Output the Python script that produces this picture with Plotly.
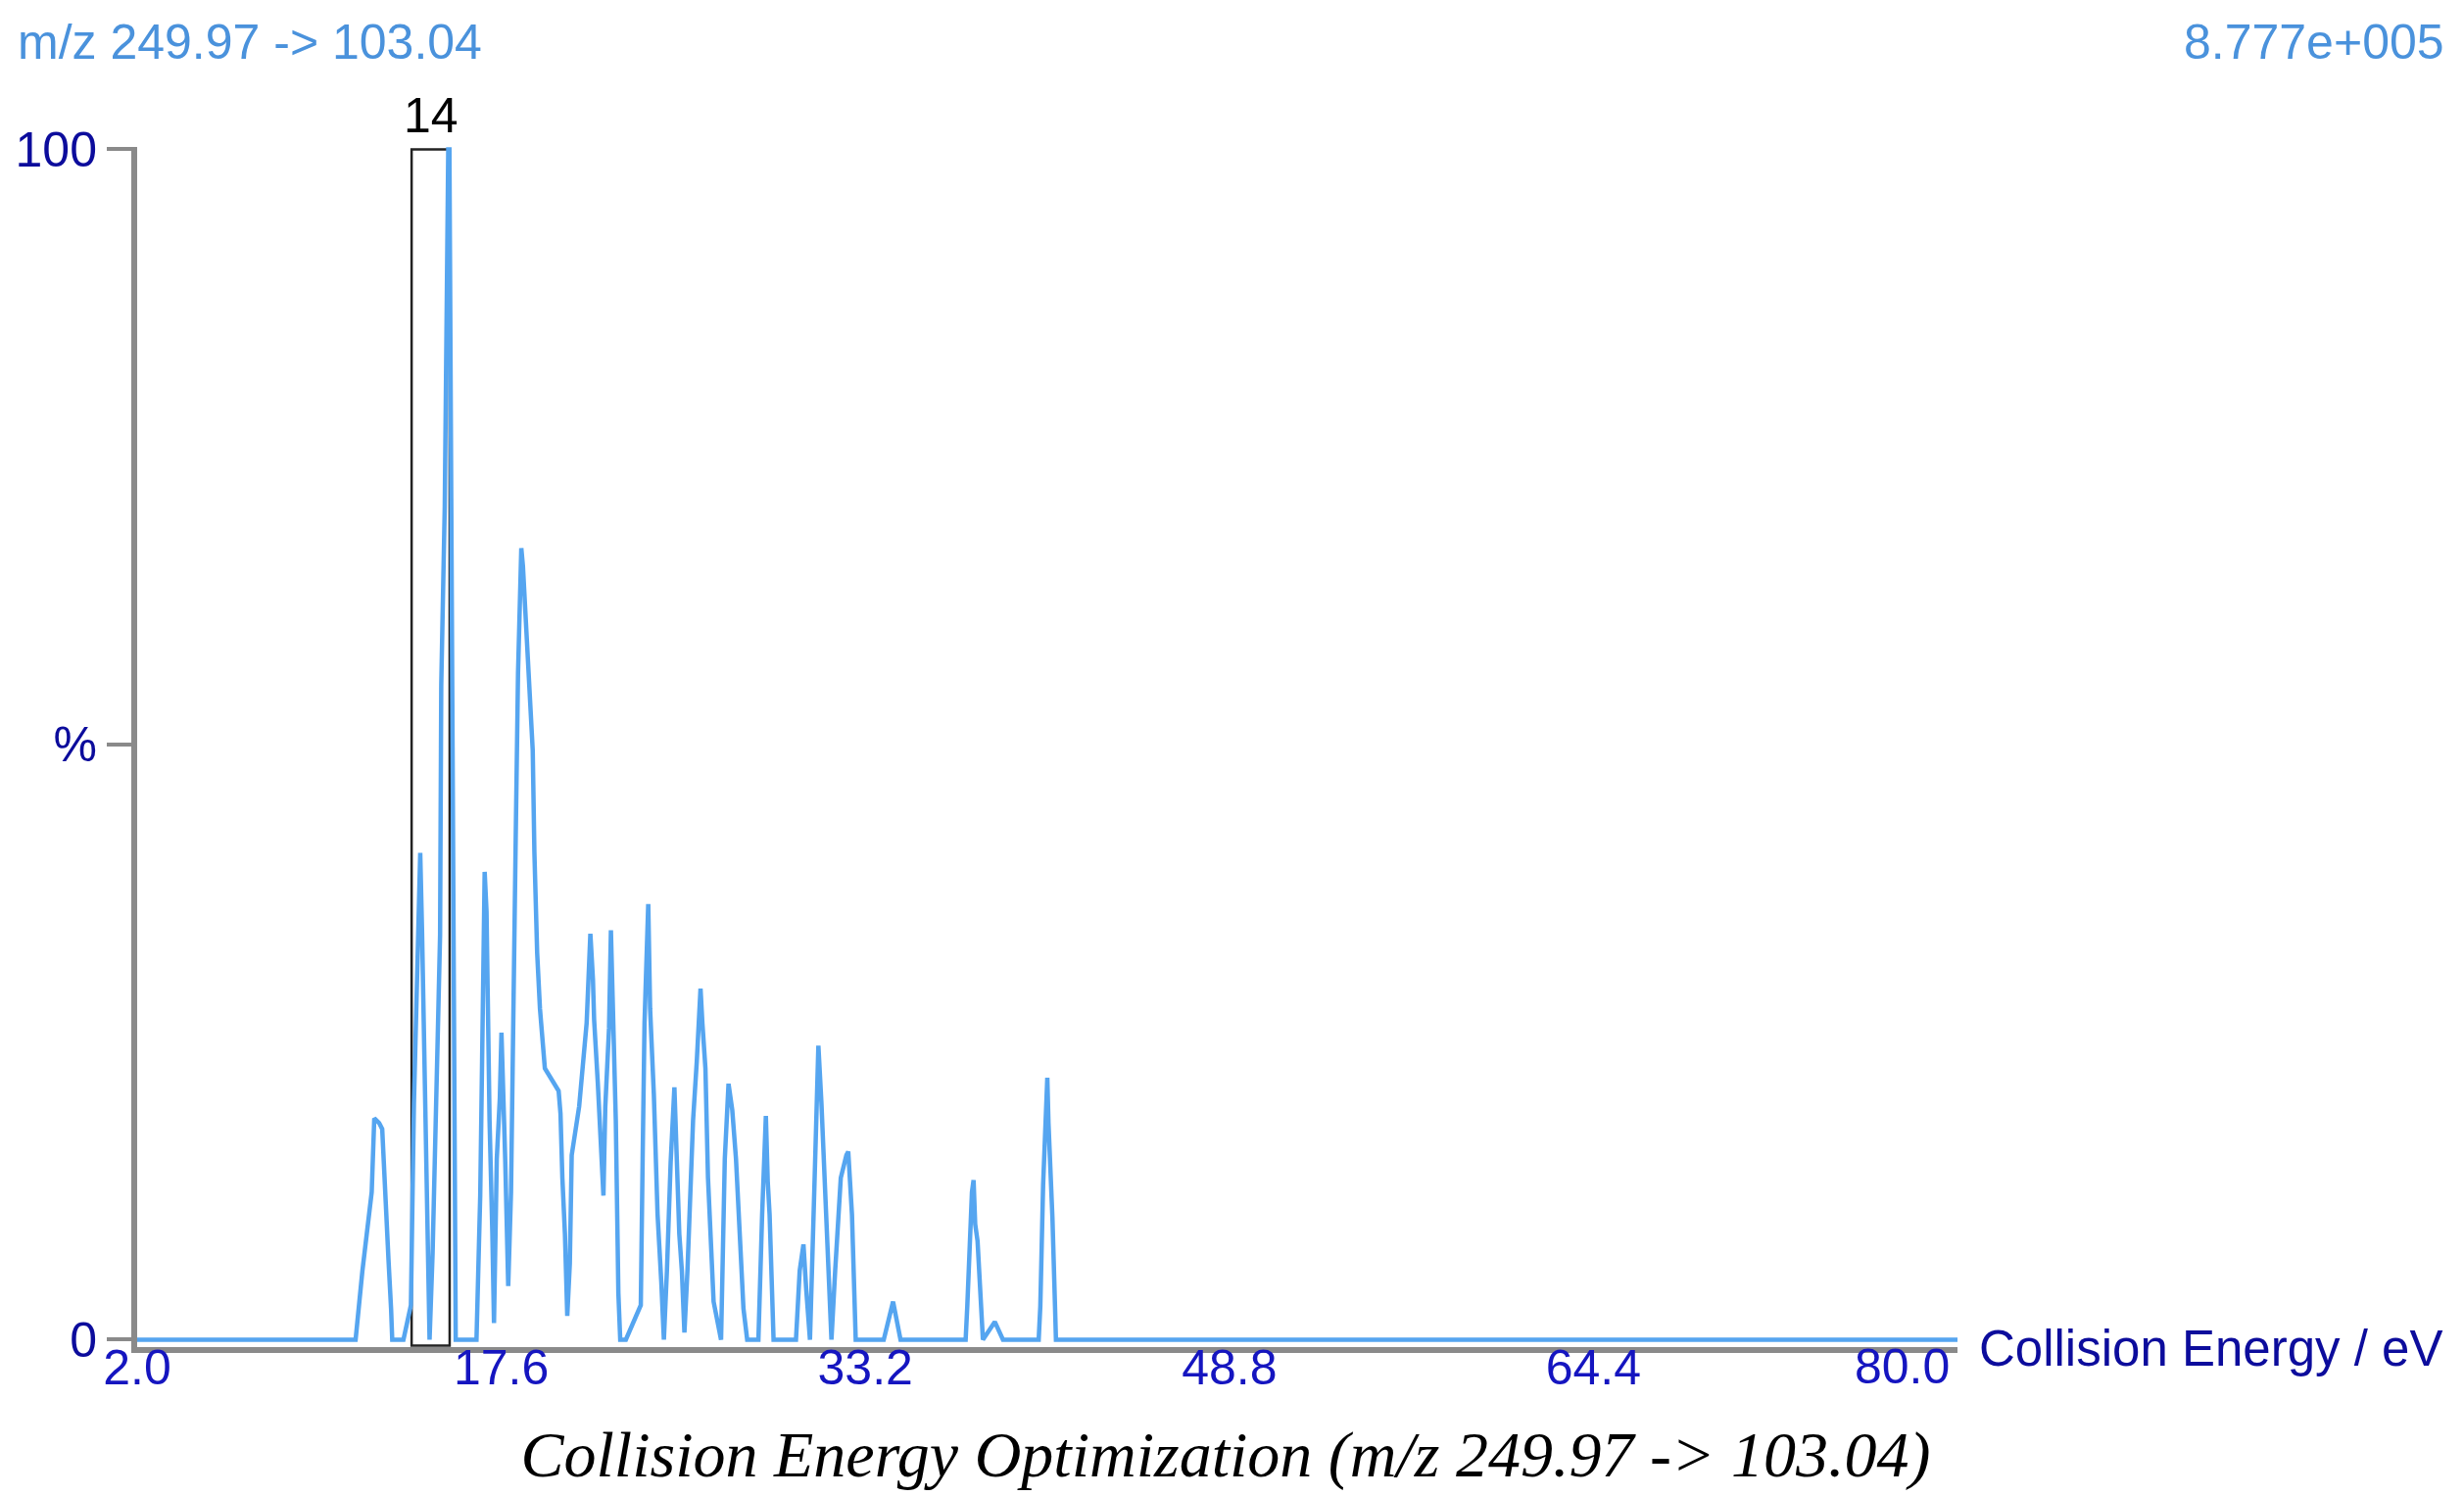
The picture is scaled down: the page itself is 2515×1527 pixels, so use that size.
import plotly.graph_objects as go

# ---------------- data ----------------
ce_ev = [
    2.0, 11.36, 11.65, 11.89, 12.05, 12.16, 12.37, 12.50, 12.61, 12.77, 12.88, 12.93,
    13.41, 13.73, 13.86, 13.97, 14.05, 14.13, 14.21, 14.29, 14.37, 14.45, 14.53,
    14.66, 14.77, 14.90, 14.98, 15.03, 15.18, 15.24, 15.33, 15.38, 15.45, 15.51, 15.58, 15.65,
    16.54, 16.70, 16.78, 16.86, 16.89, 16.97, 17.01, 17.10, 17.22, 17.29,
    17.41, 17.54, 17.61, 17.70, 17.77, 17.90,
    18.02, 18.09, 18.17, 18.22, 18.32, 18.39, 18.46, 18.53, 18.60, 18.69, 18.78, 18.87, 18.95,
    19.02, 19.14, 19.26, 19.47, 20.06, 20.14, 20.22, 20.33, 20.43,
    20.54, 20.62, 20.94, 21.26, 21.42, 21.53, 21.58, 21.74, 21.90, 21.98, 22.06, 22.22, 22.30,
    22.38, 22.51, 22.62, 22.70,
    22.94, 23.58, 23.66, 23.74, 23.90, 23.98, 24.14, 24.30, 24.46, 24.57,
    24.70, 24.86, 25.02, 25.13, 25.23, 25.34, 25.45,
    25.58, 25.82, 25.98, 26.14, 26.22, 26.35, 26.46, 26.62, 26.70, 27.02,
    27.18, 27.34, 27.50, 27.66, 27.82, 27.98, 28.14,
    28.62, 28.78, 28.94, 29.02, 29.10, 29.27,
    30.23, 30.39, 30.55, 30.67, 30.83,
    31.03, 31.19, 31.32, 31.43, 31.59, 31.75,
    31.91, 32.15, 32.39, 32.47, 32.63, 32.79,
    33.99, 34.39, 34.71,
    37.50, 37.57, 37.68, 37.77, 37.84, 37.91, 38.01, 38.12, 38.24, 38.75, 39.10,
    40.63, 40.70, 40.82, 40.91, 41.00, 41.05, 41.12, 41.22, 41.33, 41.37, 80.0,
]
intensity_pct = [
    0, 0, 5.76, 9.54, 12.4, 18.6, 18.2, 17.7, 12.4, 6.7, 2.6, 0,
    0, 2.9, 19.9, 28.8, 38.2, 40.9, 34.1, 24.7, 14.3, 7.0, 0,
    7.3, 18.4, 27.2, 34.0, 55.0, 70.0, 84.5, 100, 100, 77, 56, 25, 0,
    0, 12.1, 23.4, 32.8, 39.3, 36.0, 27.8, 18.4, 8.9, 1.4,
    15.2, 20.3, 25.8, 20.3, 15.2, 4.5,
    12.4, 22.8, 32.2, 42.0, 56.0, 63.0, 66.5, 65.0, 62.5, 59.5, 56.5, 53.0, 49.5,
    41.0, 32.5, 27.8, 22.8, 20.9, 19.0, 13.6, 8.9, 2.0,
    6.4, 15.5, 19.6, 26.6, 34.1, 30.3, 26.9, 21.5, 15.8, 12.1, 19.6, 26.2, 34.4,
    27.8, 18.4, 3.9, 0,
    0, 2.9, 15.2, 26.6, 36.6, 27.8, 20.6, 10.5, 4.8, 0,
    5.8, 14.9, 21.2, 15.2, 8.9, 5.8, 0.6,
    5.8, 18.4, 23.4, 29.5, 26.6, 22.8, 13.6, 5.8, 3.2, 0,
    15.2, 21.5, 19.3, 15.2, 8.9, 2.6, 0,
    0, 10.5, 18.8, 13.3, 10.5, 0,
    0, 5.8, 8.0, 4.2, 0,
    13.6, 24.7, 19.9, 15.2, 8.0, 0,
    5.8, 13.6, 15.5, 15.8, 10.5, 0,
    0, 3.2, 0,
    0, 2.8, 9.7, 12.4, 13.4, 9.7, 8.3, 3.4, 0, 1.5, 0,
    0, 2.8, 13.0, 18.2, 22.0, 18.2, 15.2, 10.2, 2.8, 0, 0,
]

x_tick_values = [2.0, 17.6, 33.2, 48.8, 64.4, 80.0]
x_tick_labels = ["2.0", "17.6", "33.2", "48.8", "64.4", "80.0"]
y_tick_values = [0, 50, 100]
y_tick_labels = ["0", "%", "100"]

optimum_label = "14"
optimum_box_ce = [13.76, 15.39]   # eV span of the highlighted box
optimum_box_top = 100

header_left = "m/z 249.97 -> 103.04"
header_right = "8.777e+005"
x_axis_label = "Collision Energy / eV"
bottom_title = "Collision Energy Optimization (m/z 249.97 -> 103.04)"

# ---------------- styling ----------------
W, H = 2515, 1527
M_L, M_R, M_T, M_B = 140, 517, 150, 152
SANS = "Liberation Sans, Arial, sans-serif"
SERIF = "Liberation Serif, Times New Roman, serif"
TRACE = "#55a5f0"
AXIS_GREY = "#8a8a8a"
TICK_BLUE = "#1515c0"
YLAB_BLUE = "#0c0c9c"
HEAD_BLUE = "#4a92dc"
TICK_LABEL_Y_PX = 1395

pw = W - M_L - M_R
ph = H - M_T - M_B


def px_to_paper_x(px):
    return (px - M_L) / pw


def px_to_paper_y(py):
    return (H - M_B - py) / ph


# the last tick label sits inside the axis end (right-aligned), as in the reference;
# it is drawn at its axis value with a right anchor so it does not collide with the axis label
tick_text = list(x_tick_labels)
tick_text[-1] = ""

fig = go.Figure()
fig.add_trace(go.Scatter(
    x=ce_ev, y=intensity_pct, mode="lines",
    line=dict(color=TRACE, width=4.5),
    hoverinfo="skip", showlegend=False,
))

# highlighted optimum box
fig.add_shape(type="rect", xref="x", yref="y",
              x0=optimum_box_ce[0], x1=optimum_box_ce[1], y0=-0.5, y1=optimum_box_top,
              line=dict(color="#222222", width=2.5), fillcolor="rgba(0,0,0,0)", layer="below")

fig.add_annotation(x=sum(optimum_box_ce) / 2, y=optimum_box_top, xref="x", yref="y",
                   text=optimum_label, showarrow=False, yanchor="bottom", yshift=4,
                   font=dict(family=SANS, size=50, color="#000000"))

fig.add_annotation(x=x_tick_values[-1], y=px_to_paper_y(TICK_LABEL_Y_PX), xref="x", yref="paper",
                   text=x_tick_labels[-1], showarrow=False, xanchor="right", yanchor="middle",
                   xshift=-6, font=dict(family=SANS, size=50, color=TICK_BLUE))

fig.add_annotation(x=px_to_paper_x(16), y=px_to_paper_y(43), xref="paper", yref="paper",
                   text=header_left, showarrow=False, xanchor="left", yanchor="middle",
                   font=dict(family=SANS, size=50, color=HEAD_BLUE))
fig.add_annotation(x=px_to_paper_x(2497), y=px_to_paper_y(43), xref="paper", yref="paper",
                   text=header_right, showarrow=False, xanchor="right", yanchor="middle",
                   font=dict(family=SANS, size=50, color=HEAD_BLUE))
fig.add_annotation(x=px_to_paper_x(2018), y=px_to_paper_y(1376), xref="paper", yref="paper",
                   text=x_axis_label, showarrow=False, xanchor="left", yanchor="middle",
                   font=dict(family=SANS, size=51, color=YLAB_BLUE))

fig.update_layout(
    width=W, height=H,
    margin=dict(l=M_L, r=M_R, t=M_T, b=M_B),
    paper_bgcolor="white", plot_bgcolor="white",
    title=dict(text="<i>" + bottom_title + "</i>", x=1251 / W, xanchor="center",
               y=1 - 1484 / H, yanchor="middle", yref="container",
               font=dict(family=SERIF, size=66, color="#000000")),
    xaxis=dict(range=[2, 80], showgrid=False, zeroline=False,
               showline=True, linecolor=AXIS_GREY, linewidth=6,
               tickmode="array", tickvals=x_tick_values, ticktext=tick_text,
               ticks="", ticklabelstandoff=-28,
               tickfont=dict(family=SANS, size=50, color=TICK_BLUE)),
    yaxis=dict(range=[-0.62, 100.2], showgrid=False, zeroline=False,
               showline=True, linecolor=AXIS_GREY, linewidth=6,
               tickmode="array", tickvals=y_tick_values, ticktext=y_tick_labels,
               ticks="outside", ticklen=25, tickwidth=4, tickcolor=AXIS_GREY,
               tickfont=dict(family=SANS, size=50, color=YLAB_BLUE)),
)

fig.write_html("out.html")
